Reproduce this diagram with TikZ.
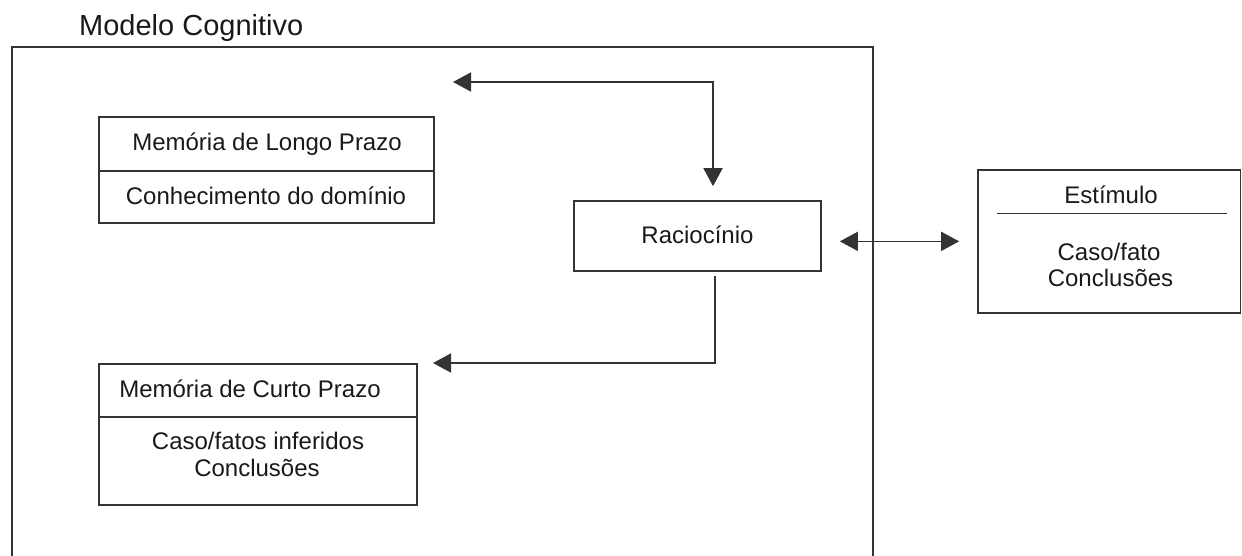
\documentclass[tikz,border=0pt]{standalone}
\usepackage{fontspec}
\setmainfont{Liberation Sans}
\usetikzlibrary{arrows.meta}
\begin{document}
\begin{tikzpicture}[x=1pt,y=-1pt,
  ln/.style={draw=black!80, line width=1.7pt},
  box/.style={ln, rectangle, inner sep=0pt, anchor=center},
  txt/.style={font=\fontsize{24}{28}\selectfont, text=black!90, inner sep=0pt, anchor=base},
  tip/.style={Triangle[length=18pt,width=19pt]},
  arr/.style={ln, -{Triangle[length=18pt,width=19pt]}},
  darr/.style={ln, {Triangle[length=18pt,width=19pt]}-{Triangle[length=18pt,width=19pt]}}]
\useasboundingbox (0,0) rectangle (1242,555);

% title and outer frame
\node[font=\fontsize{29}{34}\selectfont, text=black!90, inner sep=0pt, anchor=base west] (title) at (79,35) {Modelo Cognitivo};
\coordinate (fbl) at (12,556);
\coordinate (ftl) at (12,47);
\coordinate (ftr) at (873,47);
\coordinate (fbr) at (873,556);
\draw[ln] (fbl) -- (ftl) -- (ftr) -- (fbr);

% long-term memory
\node[box, minimum width=335pt, minimum height=54pt] (lpt) at (266.5,144) {};
\node[box, minimum width=335pt, minimum height=52pt] (lpb) at (266.5,197) {};
\node[txt] (lptt) at (267,150) {Memória de Longo Prazo};
\node[txt] (lpbt) at (266,204) {Conhecimento do domínio};

% reasoning
\node[box, minimum width=247pt, minimum height=70pt] (rac) at (697.5,236) {};
\node[txt] (ract) at (697.5,243) {Raciocínio};

% short-term memory
\node[box, minimum width=318pt, minimum height=53pt] (cpt) at (258,390.5) {};
\node[box, minimum width=318pt, minimum height=88pt] (cpb) at (258,461) {};
\node[txt] (cptt) at (250,397) {Memória de Curto Prazo};
\node[txt] (cpb1) at (258,449) {Caso/fatos inferidos};
\node[txt] (cpb2) at (257,476.7) {Conclusões};

% stimulus
\node[box, minimum width=262.5pt, minimum height=142.7pt] (est) at (1109.25,241.35) {};
\node[txt] (estt) at (1111,203) {Estímulo};
\coordinate (dl) at (997,213.5);
\coordinate (dr) at (1227,213.5);
\draw[ln] (dl) -- (dr);
\node[txt] (est1) at (1109,260) {Caso/fato};
\node[txt] (est2) at (1110.5,286) {Conclusões};

% connectors
\coordinate (tl) at (453,82);
\coordinate (cl) at (433,363);
\draw[darr, shorten >=14pt] (tl) -| ([xshift=15.5pt]rac.north);
\draw[arr, shorten <=4pt] ([xshift=17.5pt]rac.south) |- (cl);
\draw[darr, shorten <=18pt, shorten >=18pt] (rac.east |- est.west) -- (est.west);
\end{tikzpicture}
\end{document}
